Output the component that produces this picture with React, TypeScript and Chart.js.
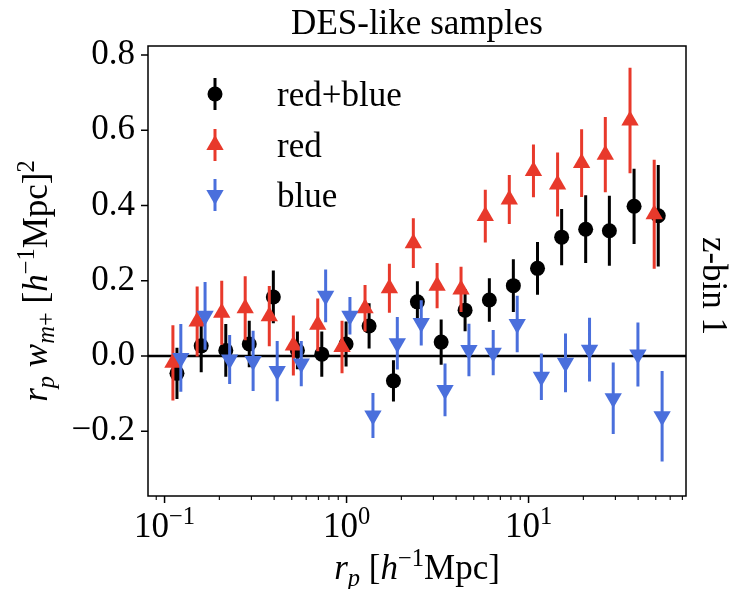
import React, { useEffect, useRef } from 'react';
import { Chart, registerables } from 'chart.js';

Chart.register(...registerables);

// ---------- data ----------
const rp = [0.117, 0.159, 0.217, 0.292, 0.396, 0.537, 0.731, 0.994, 1.33, 1.81, 2.45, 3.31, 4.48, 6.09, 8.25, 11.2, 15.2, 20.6, 27.8, 38.0, 51.6];

const allVals = [-0.046, 0.027, 0.015, 0.032, 0.157, 0.015, 0.005, 0.032, 0.080, -0.066, 0.144, 0.037, 0.122, 0.149, 0.187, 0.233, 0.316, 0.337, 0.333, 0.398, 0.373];
const allErr = [0.068, 0.07, 0.07, 0.062, 0.07, 0.05, 0.06, 0.06, 0.06, 0.055, 0.055, 0.06, 0.056, 0.058, 0.07, 0.07, 0.075, 0.09, 0.093, 0.10, 0.135];

const redVals = [-0.018, 0.092, 0.115, 0.127, 0.106, 0.028, 0.083, 0.024, 0.127, 0.18, 0.300, 0.187, 0.177, 0.372, 0.416, 0.492, 0.456, 0.513, 0.535, 0.626, 0.377];
const redErr = [0.10, 0.093, 0.085, 0.085, 0.08, 0.08, 0.07, 0.07, 0.062, 0.065, 0.066, 0.06, 0.06, 0.07, 0.065, 0.07, 0.085, 0.09, 0.10, 0.14, 0.145];

const blueVals = [-0.005, 0.107, -0.009, -0.013, -0.040, -0.020, 0.160, 0.107, -0.158, 0.034, 0.088, -0.090, 0.016, 0.009, 0.085, -0.055, -0.018, 0.017, -0.112, 0.004, -0.160];
const blueErr = [0.09, 0.09, 0.065, 0.08, 0.08, 0.06, 0.07, 0.05, 0.06, 0.07, 0.06, 0.07, 0.07, 0.06, 0.075, 0.062, 0.078, 0.085, 0.095, 0.085, 0.12];

const seriesLabels = ['red+blue', 'red', 'blue'];
const yTicks = [-0.2, 0, 0.2, 0.4, 0.6, 0.8];
const xMajorTicks = [0.1, 1, 10];
const xMajorExponents = ['−1', '0', '1'];
const xMinorTicks = [0.09, 0.2, 0.3, 0.4, 0.5, 0.6, 0.7, 0.8, 0.9, 2, 3, 4, 5, 6, 7, 8, 9, 20, 30, 40, 50, 60, 70];
const titleText = 'DES-like samples';
const sideText = 'z-bin 1';

// ---------- styles ----------
const BLACK = '#000000';
const RED = '#E8392B';
const BLUE = '#4A6FDC';
const FAM = '"Liberation Serif", "Times New Roman", serif';
const FS = 35;

type Run = { t: string; it?: boolean; sup?: boolean; sub?: boolean };

function fontFor(size: number, italic?: boolean) {
  return `${italic ? 'italic ' : ''}${size}px ${FAM}`;
}
function runSize(r: Run, size: number) {
  return r.sup || r.sub ? size * 0.7 : size;
}
function runsWidth(ctx: CanvasRenderingContext2D, runs: Run[], size: number) {
  let w = 0;
  for (const r of runs) {
    ctx.font = fontFor(runSize(r, size), r.it);
    w += ctx.measureText(r.t).width;
  }
  return w;
}
function drawRuns(ctx: CanvasRenderingContext2D, runs: Run[], x: number, y: number, size: number, align: 'left' | 'center') {
  const w = runsWidth(ctx, runs, size);
  let cx = align === 'center' ? x - w / 2 : x;
  ctx.textAlign = 'left';
  ctx.textBaseline = 'alphabetic';
  for (const r of runs) {
    const s = runSize(r, size);
    ctx.font = fontFor(s, r.it);
    const dy = r.sup ? -size * 0.38 : r.sub ? size * 0.2 : 0;
    ctx.fillText(r.t, cx, y + dy);
    cx += ctx.measureText(r.t).width;
  }
}

function drawMarker(ctx: CanvasRenderingContext2D, kind: string, x: number, y: number, color: string) {
  ctx.fillStyle = color;
  ctx.beginPath();
  if (kind === 'circle') {
    ctx.arc(x, y, 7.5, 0, Math.PI * 2);
  } else {
    const r = 10;
    const dir = kind === 'up' ? 1 : -1;
    const a = Math.PI / 3;
    ctx.moveTo(x, y - dir * r);
    ctx.lineTo(x + Math.sin(a * 2) * r, y + dir * Math.cos(a * 2) * -r);
    ctx.lineTo(x - Math.sin(a * 2) * r, y + dir * Math.cos(a * 2) * -r);
    ctx.closePath();
  }
  ctx.fill();
}

const errorBarPlugin = {
  id: 'errorBars',
  beforeDatasetDraw(chart: any, args: any) {
    const ds = chart.data.datasets[args.index];
    const xs = chart.scales.x;
    const ys = chart.scales.y;
    const ctx = chart.ctx as CanvasRenderingContext2D;
    ctx.save();
    ctx.strokeStyle = ds.borderColor;
    ctx.lineWidth = 3;
    ctx.beginPath();
    ds.data.forEach((p: any, i: number) => {
      const px = xs.getPixelForValue(p.x);
      ctx.moveTo(px, ys.getPixelForValue(p.y - ds.err[i]));
      ctx.lineTo(px, ys.getPixelForValue(p.y + ds.err[i]));
    });
    ctx.stroke();
    ctx.restore();
  },
};

const decorPlugin = {
  id: 'decor',
  beforeDatasetsDraw(chart: any) {
    const { ctx, chartArea } = chart;
    const y0 = chart.scales.y.getPixelForValue(0);
    ctx.save();
    ctx.strokeStyle = BLACK;
    ctx.lineWidth = 2.4;
    ctx.beginPath();
    ctx.moveTo(chartArea.left, y0);
    ctx.lineTo(chartArea.right, y0);
    ctx.stroke();
    ctx.restore();
  },
  afterDraw(chart: any) {
    const ctx = chart.ctx as CanvasRenderingContext2D;
    const { left, right, top, bottom } = chart.chartArea;
    const xs = chart.scales.x;
    const ys = chart.scales.y;
    ctx.save();
    ctx.strokeStyle = BLACK;
    ctx.fillStyle = BLACK;
    // frame
    ctx.lineWidth = 1.5;
    ctx.strokeRect(left, top, right - left, bottom - top);
    // y ticks
    ctx.beginPath();
    for (const v of yTicks) {
      const p = ys.getPixelForValue(v);
      ctx.moveTo(left - 7, p);
      ctx.lineTo(left, p);
    }
    // x major ticks
    for (const v of xMajorTicks) {
      const p = xs.getPixelForValue(v);
      ctx.moveTo(p, bottom);
      ctx.lineTo(p, bottom + 7);
    }
    ctx.stroke();
    ctx.lineWidth = 1.1;
    ctx.beginPath();
    for (const v of xMinorTicks) {
      const p = xs.getPixelForValue(v);
      ctx.moveTo(p, bottom);
      ctx.lineTo(p, bottom + 4);
    }
    ctx.stroke();

    // x tick labels
    xMajorTicks.forEach((v, i) => {
      const p = xs.getPixelForValue(v);
      drawRuns(ctx, [{ t: '10' }, { t: xMajorExponents[i], sup: true }], p, 537, FS, 'center');
    });

    // x axis title
    drawRuns(ctx, [
      { t: 'r', it: true }, { t: 'p', it: true, sub: true }, { t: ' [' },
      { t: 'h', it: true }, { t: '−1', sup: true }, { t: 'Mpc' }, { t: ']' },
    ], (left + right) / 2, 579, FS, 'center');

    // y axis title
    ctx.save();
    ctx.translate(47, 281);
    ctx.rotate(-Math.PI / 2);
    drawRuns(ctx, [
      { t: 'r', it: true }, { t: 'p', it: true, sub: true }, { t: ' ' },
      { t: 'w', it: true }, { t: 'm', it: true, sub: true }, { t: '+', sub: true }, { t: ' [' },
      { t: 'h', it: true }, { t: '−1', sup: true }, { t: 'Mpc' }, { t: ']' }, { t: '2', sup: true },
    ], 0, 0, FS, 'center');
    ctx.restore();

    // title
    drawRuns(ctx, [{ t: titleText }], (left + right) / 2, 34, FS, 'center');

    // side label
    ctx.save();
    ctx.translate(703, 286);
    ctx.rotate(Math.PI / 2);
    drawRuns(ctx, [{ t: sideText }], 0, 0, FS, 'center');
    ctx.restore();

    // legend
    const lx = 215;
    const rows = [
      { y: 94, kind: 'circle', color: BLACK },
      { y: 145, kind: 'up', color: RED },
      { y: 195, kind: 'down', color: BLUE },
    ];
    rows.forEach((r, i) => {
      ctx.strokeStyle = r.color;
      ctx.lineWidth = 3;
      ctx.beginPath();
      ctx.moveTo(lx, r.y - 16);
      ctx.lineTo(lx, r.y + 16);
      ctx.stroke();
      drawMarker(ctx, r.kind, lx, r.y, r.color);
      ctx.fillStyle = BLACK;
      drawRuns(ctx, [{ t: seriesLabels[i] }], 277, r.y + 12, FS, 'left');
    });
    ctx.restore();
  },
};

export default function App() {
  const ref = useRef<HTMLCanvasElement | null>(null);
  useEffect(() => {
    if (!ref.current) return;
    const chart = new Chart(ref.current, {
      type: 'scatter',
      data: {
        datasets: [
          {
            label: seriesLabels[0],
            data: rp.map((x, i) => ({ x, y: allVals[i] })),
            err: allErr,
            pointStyle: 'circle',
            pointRadius: 7.5,
            pointBackgroundColor: BLACK,
            pointBorderWidth: 0,
            borderColor: BLACK,
            backgroundColor: BLACK,
            showLine: false,
            order: 3,
          } as any,
          {
            label: seriesLabels[1],
            data: rp.map((x, i) => ({ x: x * 0.95, y: redVals[i] })),
            err: redErr,
            pointStyle: 'triangle',
            pointRadius: 10,
            pointBackgroundColor: RED,
            pointBorderWidth: 0,
            borderColor: RED,
            backgroundColor: RED,
            showLine: false,
            order: 2,
          } as any,
          {
            label: seriesLabels[2],
            data: rp.map((x, i) => ({ x: x * 1.05, y: blueVals[i] })),
            err: blueErr,
            pointStyle: 'triangle',
            rotation: 180,
            pointRotation: 180,
            pointRadius: 10,
            pointBackgroundColor: BLUE,
            pointBorderWidth: 0,
            borderColor: BLUE,
            backgroundColor: BLUE,
            showLine: false,
            order: 1,
          } as any,
        ],
      },
      options: {
        animation: false,
        responsive: true,
        maintainAspectRatio: false,
        layout: { padding: { top: 46, right: 48, left: 0, bottom: 0 } },
        plugins: { legend: { display: false }, tooltip: { enabled: false }, title: { display: false } },
        events: [],
        scales: {
          x: {
            type: 'logarithmic',
            min: 0.0811,
            max: 73.3,
            grid: { display: false, drawTicks: false },
            border: { display: false },
            ticks: { display: false },
            afterBuildTicks: (s: any) => {
              s.ticks = [...xMajorTicks, ...xMinorTicks].sort((a, b) => a - b).map((v) => ({ value: v }));
            },
            afterFit: (s: any) => { s.height = 93; },
          },
          y: {
            type: 'linear',
            min: -0.372,
            max: 0.824,
            grid: { display: false, drawTicks: false },
            border: { display: false },
            ticks: {
              color: BLACK,
              padding: 13,
              font: { family: FAM, size: FS },
              callback: (v: any) => (v < 0 ? '−' + Math.abs(v).toFixed(1) : Number(v).toFixed(1)),
            },
            afterBuildTicks: (s: any) => { s.ticks = yTicks.map((v) => ({ value: v })); },
            afterFit: (s: any) => { s.width = 148; },
          },
        },
      } as any,
      plugins: [errorBarPlugin, decorPlugin],
    });
    return () => chart.destroy();
  }, []);
  return (
    <div style={{ position: 'absolute', left: 0, top: 0, width: 734, height: 589, background: '#fff' }}>
      <canvas ref={ref} />
    </div>
  );
}
